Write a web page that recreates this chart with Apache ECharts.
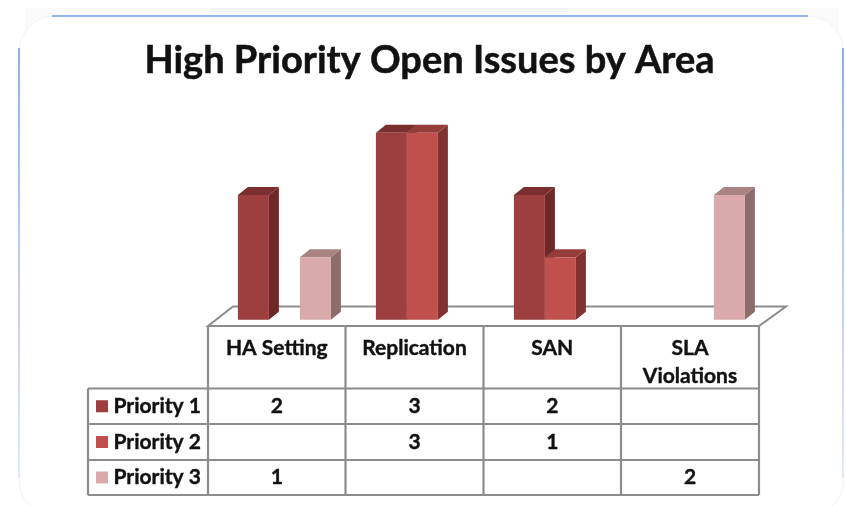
<!DOCTYPE html>
<html>
<head>
<meta charset="utf-8">
<style>
  html, body { margin: 0; padding: 0; background: #fff; }
  #main { width: 846px; height: 506px; }
</style>
<script src="https://cdn.jsdelivr.net/npm/echarts@6/dist/echarts.min.js"></script>
</head>
<body>
<div id="main"></div>
<script>
const categories = ['HA Setting', 'Replication', 'SAN', 'SLA\nViolations']
const seriesNames = ['Priority 1', 'Priority 2', 'Priority 3']
const priority1 = [2, 3, 2, null]
const priority2 = [null, 3, 1, null]
const priority3 = [1, null, null, 2]

const FONT = 'Lato, "Open Sans", sans-serif'
const LINE = '#8c8c8c'
const TEXT = '#111'
// 每个系列：正面、顶面、侧面颜色
const colors = [
  { front: '#9c3f3e', top: '#7a2f2e', side: '#6b2a29' },
  { front: '#c0504d', top: '#943d3b', side: '#7f3230' },
  { front: '#d9aaa9', top: '#a98382', side: '#8b6d6c' }
]
const allValues = [priority1, priority2, priority3]

// 表格的线位置
const colX = [208, 345.5, 483.5, 621, 759]
const rowY = [326, 388.5, 424, 460, 495]
const leftX = 88

const barW = 31
const depthX = 10
const depthY = 8

function renderBar(seriesIndex) {
  return function (params, api) {
    const cat = api.value(0)
    const val = api.value(1)
    const base = api.coord([cat, 0])
    const top = api.coord([cat, val])
    const x0 = base[0] - barW * 1.5 + seriesIndex * barW
    const x1 = x0 + barW
    const c = colors[seriesIndex]
    return {
      type: 'group',
      children: [
        {
          type: 'polygon',
          shape: { points: [[x1, top[1]], [x1 + depthX, top[1] - depthY], [x1 + depthX, base[1] - depthY], [x1, base[1]]] },
          style: { fill: c.side }
        },
        {
          type: 'polygon',
          shape: { points: [[x0, top[1]], [x0 + depthX, top[1] - depthY], [x1 + depthX, top[1] - depthY], [x1, top[1]]] },
          style: { fill: c.top }
        },
        {
          type: 'rect',
          shape: { x: x0, y: top[1], width: barW, height: base[1] - top[1] },
          style: { fill: c.front }
        }
      ]
    }
  }
}

// 边框的渐隐效果
function fade(from, to) {
  return new echarts.graphic.LinearGradient(0, 0, 0, 1, [
    { offset: 0, color: from },
    { offset: 1, color: to }
  ])
}

function frameGraphics() {
  return [
    {
      type: 'rect', z: -3, shape: { x: 25, y: 8, width: 814, height: 40 },
      style: { fill: '#fafafa' }
    },
    {
      type: 'rect', z: -3, shape: { x: 210, y: 8, width: 358, height: 4 },
      style: { fill: '#f4f4f5' }
    },
    {
      type: 'rect', z: -2, shape: { x: 19, y: 16, width: 824.5, height: 500, r: 36 },
      style: { fill: '#fff', stroke: '#f3f3f3', lineWidth: 1 }
    },
    {
      type: 'rect', z: -1, shape: { x: 52, y: 15, width: 756, height: 2 },
      style: { fill: '#98b3e9' }
    },
    {
      type: 'rect', z: -1, shape: { x: 18, y: 48, width: 2, height: 430 },
      style: { fill: fade('#8fb0e8', '#e2eaf9') }
    },
    {
      type: 'rect', z: -1, shape: { x: 842, y: 48, width: 2, height: 430 },
      style: { fill: fade('#8fb0e8', '#e2eaf9') }
    }
  ]
}

function tableGraphics() {
  const g = []
  const lineStyle = { stroke: LINE, lineWidth: 2.2 }
  const addLine = (x1, y1, x2, y2) => g.push({
    type: 'line', z: 1, shape: { x1, y1, x2, y2 }, style: lineStyle
  })
  const textStyle = (text, align) => ({
    text,
    font: 'bold 21px ' + FONT,
    fill: TEXT,
    stroke: TEXT,
    lineWidth: 0.4,
    align,
    verticalAlign: 'middle'
  })
  // 地板
  g.push({
    type: 'polygon', z: 0,
    shape: { points: [[colX[0], rowY[0]], [233, 306.5], [786, 306.5], [colX[4], rowY[0]]] },
    style: { fill: '#fff', stroke: LINE, lineWidth: 2 }
  })
  colX.forEach((x) => {
    addLine(x, rowY[0], x, rowY[rowY.length - 1])
  })
  rowY.forEach((y, i) => {
    addLine(i === 0 ? colX[0] : leftX, y, colX[4], y)
  })
  addLine(leftX, rowY[1], leftX, rowY[4])
  // 表头
  categories.forEach((name, i) => {
    g.push({
      type: 'text', z: 2,
      x: (colX[i] + colX[i + 1]) / 2, y: rowY[0] + 8,
      style: Object.assign(textStyle(name, 'center'), { verticalAlign: 'top', lineHeight: 28 })
    })
  })
  // 行
  seriesNames.forEach((name, r) => {
    const midY = (rowY[r + 1] + rowY[r + 2]) / 2
    g.push({
      type: 'rect', z: 2, shape: { x: 96, y: midY - 6, width: 12, height: 12 },
      style: { fill: colors[r].front }
    })
    g.push({
      type: 'text', z: 2, x: 113.5, y: midY,
      style: textStyle(name, 'left')
    })
    allValues[r].forEach((v, i) => {
      if (v === null) return
      g.push({
        type: 'text', z: 2, x: (colX[i] + colX[i + 1]) / 2, y: midY,
        style: textStyle(String(v), 'center')
      })
    })
  })
  return g
}

const chartInstance = echarts.init(document.getElementById('main'), null, { renderer: 'canvas' })
const option = {
  animation: false,
  backgroundColor: '#fff',
  title: {
    text: 'High Priority Open Issues by Area',
    left: 424.5,
    top: 37,
    textAlign: 'center',
    textStyle: {
      color: TEXT,
      fontFamily: FONT,
      fontWeight: 'bold',
      fontSize: 38,
      textBorderColor: TEXT,
      textBorderWidth: 0.5
    }
  },
  // 柱子的基线比表格靠右，因为有透视偏移
  grid: { left: 215.4, width: 552, top: 132.7, height: 187 },
  xAxis: { type: 'category', data: categories, show: false },
  yAxis: { type: 'value', min: 0, max: 3, interval: 1, show: false },
  graphic: { elements: frameGraphics().concat(tableGraphics()) },
  series: allValues.map((values, i) => ({
    name: seriesNames[i],
    type: 'custom',
    z: 3,
    renderItem: renderBar(i),
    encode: { x: 0, y: 1 },
    data: values.map((v, c) => [c, v]).filter((d) => d[1] !== null)
  }))
}
chartInstance.setOption(option)
</script>
</body>
</html>
